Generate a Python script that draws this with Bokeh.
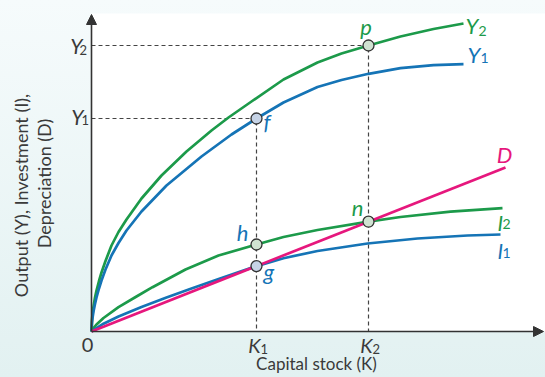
import math
from bokeh.plotting import figure
from bokeh.models import Range1d, Label, Arrow, NormalHead, BoxAnnotation
from bokeh.embed import file_html
from bokeh.resources import INLINE

# ---------------- data ----------------
K_Y2 = [0, 0.05, 0.1, 0.2, 0.35, 0.5, 0.75, 1.0, 1.4, 2.0, 2.7, 3.5, 5.0, 7.0, 9.5, 12.0, 13.7, 16.0,
        19.2, 22.6, 25.0, 27.7, 30.9, 34.2, 37.2]
Y2 = [0, 1.2, 1.7, 2.5, 3.4, 4.1, 5.05, 5.9, 7.05, 8.6, 9.95, 11.2, 13.3, 15.6, 18.0, 20.1, 21.4, 23.0,
      25.2, 26.9, 27.8, 28.6, 29.5, 30.25, 30.8]

K_Y1 = [0, 0.05, 0.1, 0.2, 0.35, 0.5, 0.75, 1.0, 1.4, 2.0, 2.7, 3.5, 5.0, 7.5, 11.0, 14.0, 16.5, 19.2,
        22.6, 25.0, 27.7, 30.9, 34.2, 37.2]
Y1 = [0, 0.9, 1.35, 2.0, 2.75, 3.4, 4.3, 5.1, 6.2, 7.6, 8.85, 10.1, 12.0, 14.6, 17.5, 19.7, 21.3, 22.9,
      24.45, 25.15, 25.77, 26.33, 26.63, 26.73]

K_I2 = [0, 0.2, 0.5, 1.2, 2.7, 4.5, 6.1, 9.4, 12.7, 16.5, 19.2, 22.6, 27.7, 30.9, 35.9, 41.1]
I2 = [0, 0.33, 0.7, 1.35, 2.43, 3.5, 4.43, 6.2, 7.6, 8.7, 9.45, 10.15, 10.98, 11.45, 11.98, 12.33]

K_I1 = [0, 0.5, 1.2, 2.7, 5.0, 7.5, 10.0, 13.0, 16.5, 19.2, 22.6, 27.6, 32.6, 37.6, 40.9]
I1 = [0, 0.33, 0.78, 1.5, 2.46, 3.4, 4.29, 5.35, 6.54, 7.33, 8.05, 8.8, 9.3, 9.6, 9.7]

K_D = [0, 41.4]
D = [0, 16.41]

K1, K2 = 16.5, 27.7
Y1_level, Y2_level = 21.3, 28.6

point_names = ["f", "p", "h", "g", "n"]
point_k = [16.5, 27.7, 16.5, 16.5, 27.7]
point_v = [21.3, 28.6, 8.7, 6.54, 10.98]

# ---------------- style ----------------
GREEN = "#1c9a4a"
BLUE = "#1574b6"
MAGENTA = "#e6177d"
DARK = "#333333"
TXT = "#3a3a3a"
FONT = "Lato"
FILL_G = "#d0e3d2"
FILL_B = "#c6d3e6"
SHIFT = 8  # baseline correction in px

# the frame covers the whole canvas; data unit = 10 px
p = figure(width=545, height=377, output_backend="svg", toolbar_location=None,
           x_range=Range1d(-9.1, 45.4), y_range=Range1d(-4.6, 33.1),
           min_border_left=0, min_border_right=0, min_border_top=0, min_border_bottom=0)
p.title.visible = False
p.axis.visible = False
p.grid.visible = False
p.outline_line_color = None
p.background_fill_color = None
p.border_fill_color = None
p.styles = {"background": "linear-gradient(180deg, #f6fbfc 0%, #e2f1f1 100%)"}

# white plotting area
p.add_layout(BoxAnnotation(left=0, bottom=0, top=31.8, fill_color="white", fill_alpha=1.0,
                           line_color=None, level="underlay"))

# axes with arrow heads
p.add_layout(Arrow(end=NormalHead(size=10, fill_color=DARK, line_color=DARK, line_width=1),
                   x_start=0, y_start=0, x_end=45.2, y_end=0,
                   line_color=DARK, line_width=1.6))
p.add_layout(Arrow(end=NormalHead(size=10, fill_color=DARK, line_color=DARK, line_width=1),
                   x_start=0, y_start=0, x_end=0, y_end=31.7,
                   line_color=DARK, line_width=1.6))

# dashed guides
p.line([0, K2, K2], [Y2_level, Y2_level, 0], line_color="#444444", line_width=1.2, line_dash="4 3")
p.line([0, K1, K1], [Y1_level, Y1_level, 0], line_color="#444444", line_width=1.2, line_dash="4 3")

# curves
p.line(K_Y2, Y2, line_color=GREEN, line_width=2.7)
p.line(K_Y1, Y1, line_color=BLUE, line_width=2.7)
p.line(K_I2, I2, line_color=GREEN, line_width=2.7)
p.line(K_I1, I1, line_color=BLUE, line_width=2.7)
p.line(K_D, D, line_color=MAGENTA, line_width=2.7)

fills = [FILL_B, FILL_G, FILL_G, FILL_B, FILL_G]
p.scatter(point_k, point_v, size=11, fill_color=fills, line_color=DARK, line_width=1.3)


def lab(x, y, text, color, size, xo, yo, italic=True, align="left", baseline="alphabetic", angle=0.0):
    if baseline == "alphabetic":
        yo = yo + SHIFT
    p.add_layout(Label(x=x, y=y, text=text, text_color=color, text_font=FONT,
                       text_font_size=f"{size}px",
                       text_font_style="italic" if italic else "normal",
                       x_offset=xo, y_offset=yo, text_align=align, text_baseline=baseline,
                       angle=angle))


# curve labels
lab(K_Y2[-1], Y2[-1], "Y", GREEN, 22, 2, -10)
lab(K_Y2[-1], Y2[-1], "2", GREEN, 14, 15, -15, italic=False)
lab(K_Y1[-1], Y1[-1], "Y", BLUE, 22, 4, 2)
lab(K_Y1[-1], Y1[-1], "1", BLUE, 14, 17, -2, italic=False)
lab(K_D[-1], D[-1], "D", MAGENTA, 22, -1, 5, align="center")
lab(K_I2[-1], I2[-1], "I", GREEN, 21, -5, -22)
lab(K_I2[-1], I2[-1], "2", GREEN, 14, 0, -24, italic=False)
lab(K_I1[-1], I1[-1], "I", BLUE, 21, -3, -24)
lab(K_I1[-1], I1[-1], "1", BLUE, 14, 2, -26, italic=False)

# point labels
pt_style = {"f": (BLUE, 7, -11, "left"), "p": (GREEN, -2.5, 11.5, "center"),
            "h": (BLUE, -8, 4, "right"), "g": (BLUE, 7, -13, "left"),
            "n": (GREEN, -5, 6, "right")}
for name, k, v in zip(point_names, point_k, point_v):
    c, xo, yo, al = pt_style[name]
    lab(k, v, name, c, 22, xo, yo, align=al)

# axis tick labels
lab(0, 0, "0", TXT, 20, -4, -21, italic=False, align="center")
for k, sub in ((K1, "1"), (K2, "2")):
    lab(k, 0, "K", TXT, 20, 4, -21, align="right")
    lab(k, 0, sub, TXT, 13, 4, -25, italic=False)
lab(0, Y2_level, "Y", TXT, 21, -9, -8, align="right")
lab(0, Y2_level, "2", TXT, 13, -12, -12, italic=False)
lab(0, Y1_level, "Y", TXT, 21, -8, -6, align="right")
lab(0, Y1_level, "1", TXT, 13, -10, -9, italic=False)

# axis titles
lab(-7.1, 13.6, "Output (Y), Investment (I),", TXT, 18, 0, 0, italic=False, align="center",
    baseline="middle", angle=math.pi / 2)
lab(-4.75, 14.8, "Depreciation (D)", TXT, 18, 0, 0, italic=False, align="center",
    baseline="middle", angle=math.pi / 2)
lab(22.5, -4.0, "Capital stock (K)", TXT, 17, 0, 0, italic=False, align="center")

open("out.html", "w").write(file_html(p, INLINE))
